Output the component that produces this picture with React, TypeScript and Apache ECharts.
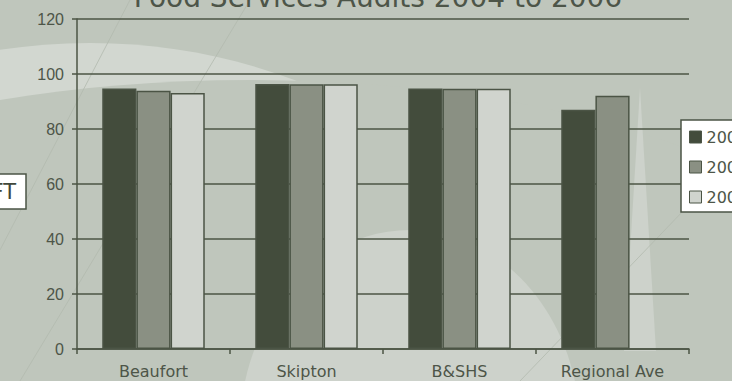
import React, { useEffect, useRef } from "react";
import * as echarts from "echarts";

const categories = ["Beaufort", "Skipton", "B&SHS", "Regional Ave"];
const seriesNames = ["2004", "2005", "2006"];
const values2004 = [94.7, 96.4, 94.7, 87.0];
const values2005 = [93.9, 96.3, 94.6, 92.1];
const values2006: (number | null)[] = [93.1, 96.3, 94.6, null];
const yTicks = { min: 0, max: 120, interval: 20 };
const titleText = "Food Services Audits 2004 to 2006";
const sideLabel = "FT";

const BORDER = "#4b5445";
const TEXT = "#4d5548";
const BG = "#bfc6bc";
const LIGHT = "#d2d7d0";

export default function App() {
  const ref = useRef<HTMLDivElement>(null);
  useEffect(() => {
    if (!ref.current) return;
    const chart = echarts.init(ref.current, null, { renderer: "svg" });
    const colors = ["#434c3c", "#8a9083", "#d0d4ce"];
    const data = [values2004, values2005, values2006];
    chart.setOption({
      animation: false,
      backgroundColor: BG,
      grid: { left: 77, right: 43, top: 19, bottom: 32, containLabel: false },
      graphic: [
        { type: "ellipse", z: -10, silent: true, shape: { cx: 90, cy: 468, rx: 500, ry: 425 }, style: { fill: LIGHT } },
        { type: "ellipse", z: -9, silent: true, shape: { cx: 250, cy: 300, rx: 600, ry: 220 }, style: { fill: BG } },
        { type: "ellipse", z: -8, silent: true, shape: { cx: 410, cy: 430, rx: 170, ry: 200 }, style: { fill: "#cdd2cb" } },
        { type: "polygon", z: -8, silent: true, shape: { points: [[640, 88], [624, 351], [656, 351]] }, style: { fill: "#cdd2cb" } },
        { type: "line", z: -7, silent: true, shape: { x1: 0, y1: 250, x2: 130, y2: 0 }, style: { stroke: "#b3baaf", lineWidth: 0.8 } },
        { type: "line", z: -7, silent: true, shape: { x1: 20, y1: 381, x2: 250, y2: 0 }, style: { stroke: "#b3baaf", lineWidth: 0.8 } },
        { type: "line", z: -7, silent: true, shape: { x1: 520, y1: 381, x2: 732, y2: 160 }, style: { stroke: "#b3baaf", lineWidth: 0.8 } },
        {
          type: "text",
          z: 10,
          style: {
            text: titleText,
            x: 378,
            y: -3,
            align: "center",
            verticalAlign: "middle",
            font: '28px "DejaVu Sans"',
            fill: TEXT,
          },
        },
        {
          type: "rect",
          z: 10,
          shape: { x: -20, y: 174, width: 46, height: 35 },
          style: { fill: "#ffffff", stroke: BORDER, lineWidth: 1.5 },
        },
        {
          type: "text",
          z: 11,
          style: {
            text: sideLabel,
            x: 16,
            y: 192,
            align: "right",
            verticalAlign: "middle",
            font: '21px "DejaVu Sans"',
            fill: "#3f473a",
          },
        },
      ],
      legend: {
        orient: "vertical",
        left: 681,
        top: 120,
        padding: [9, 40, 7, 8],
        itemGap: 14,
        itemWidth: 12,
        itemHeight: 12,
        icon: "rect",
        backgroundColor: "#ffffff",
        borderColor: BORDER,
        borderWidth: 1.5,
        borderRadius: 0,
        itemStyle: { borderColor: BORDER, borderWidth: 1 },
        textStyle: { fontFamily: "DejaVu Sans", fontSize: 16, lineHeight: 16, color: TEXT },
        data: seriesNames,
      },
      xAxis: {
        type: "category",
        data: categories,
        axisLine: { lineStyle: { color: BORDER, width: 1.5 } },
        axisTick: { show: true, length: 5, alignWithLabel: false, lineStyle: { color: BORDER, width: 1.5 } },
        axisLabel: { margin: 14, fontFamily: "DejaVu Sans", fontSize: 16, color: TEXT },
      },
      yAxis: {
        type: "value",
        min: yTicks.min,
        max: yTicks.max,
        interval: yTicks.interval,
        axisLine: { show: true, lineStyle: { color: BORDER, width: 1.5 } },
        axisTick: { show: true, length: 5, lineStyle: { color: BORDER, width: 1.5 } },
        axisLabel: { margin: 13, fontFamily: "Liberation Sans", fontSize: 16, color: TEXT },
        splitLine: { show: true, lineStyle: { color: BORDER, width: 1.5 } },
      },
      series: seriesNames.map((name, i) => ({
        name,
        type: "bar",
        data: data[i],
        barGap: "0%",
        barCategoryGap: "33%",
        itemStyle: { color: colors[i], borderColor: BORDER, borderWidth: 1.5 },
      })),
    });
    return () => chart.dispose();
  }, []);
  return (
    <div
      ref={ref}
      style={{ position: "fixed", left: 0, top: 0, width: 732, height: 381 }}
    />
  );
}
